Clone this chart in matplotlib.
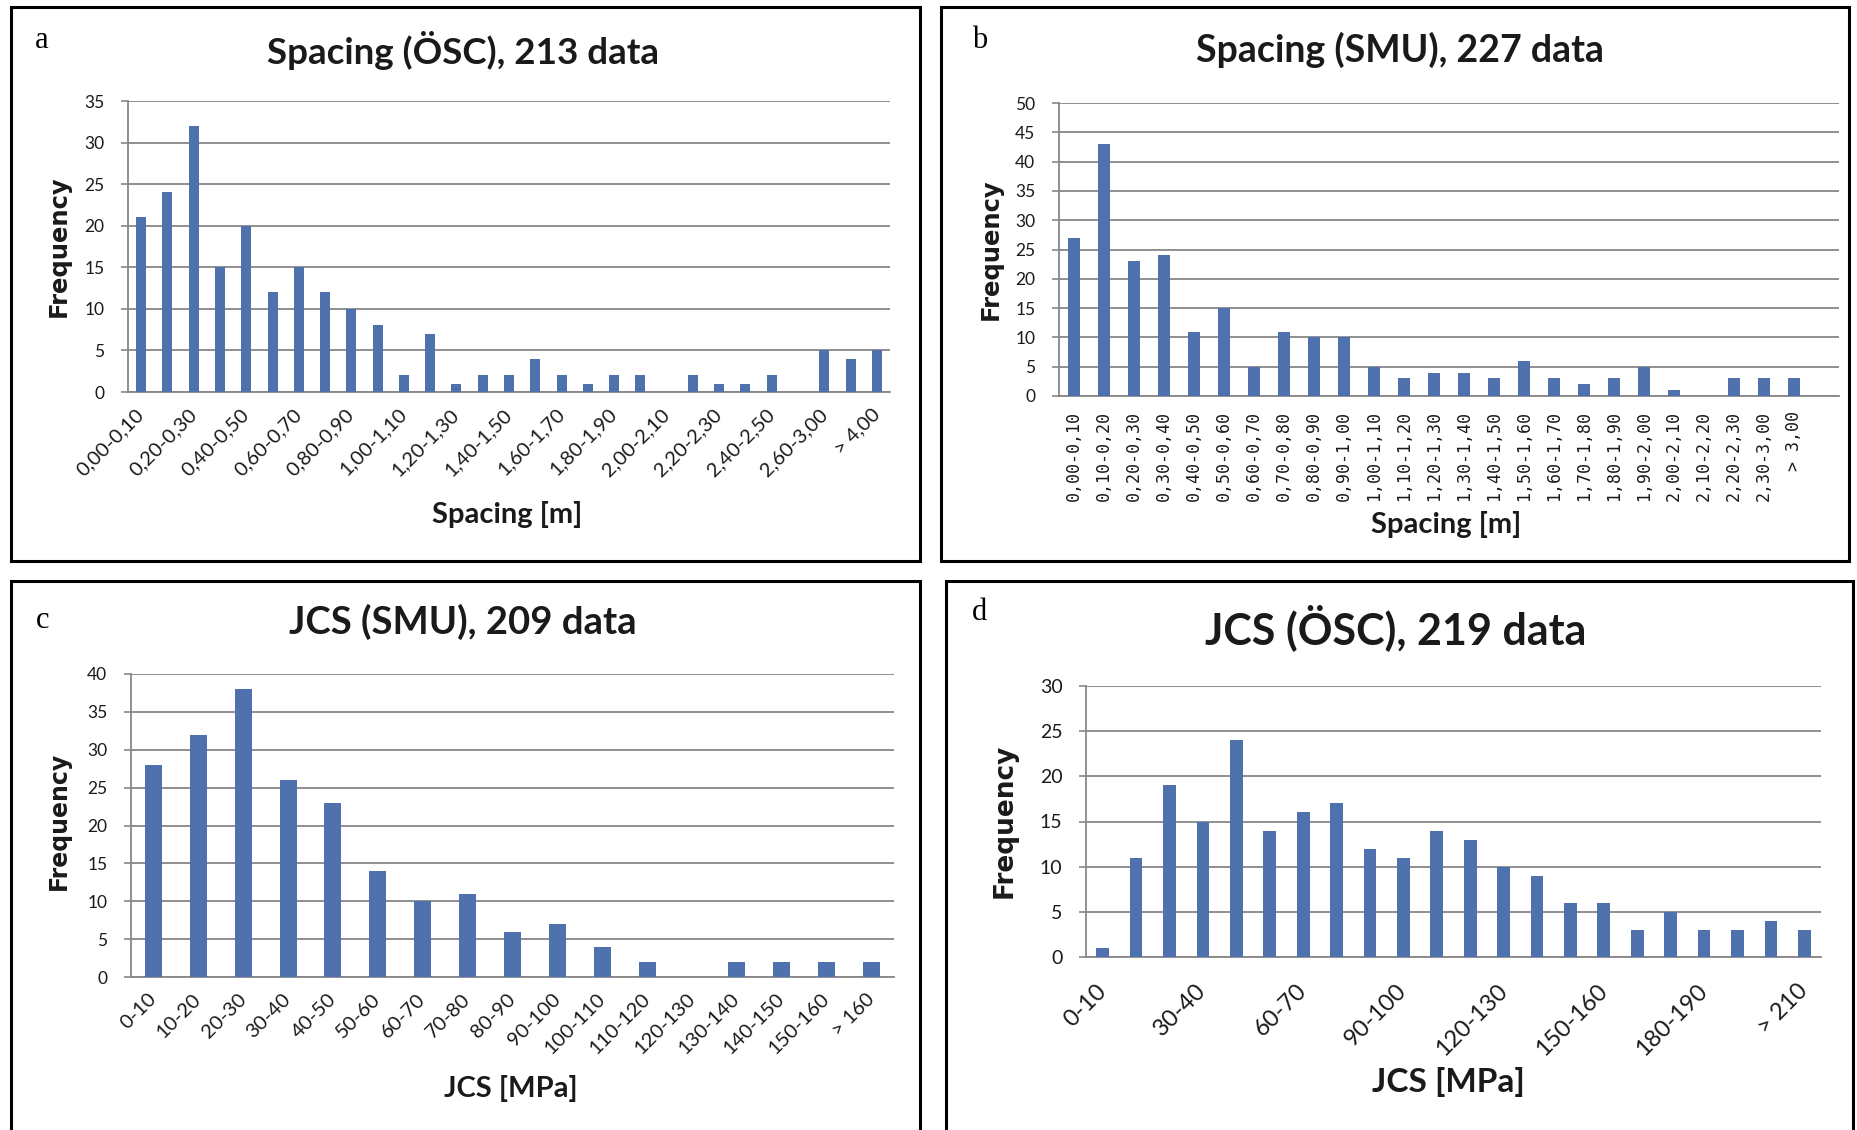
import numpy as np
import matplotlib
matplotlib.use("Agg")
import matplotlib.pyplot as plt
from matplotlib.patches import Rectangle

# ---------------- data ----------------
spacing_osc_labels = ['0,00-0,10', '0,10-0,20', '0,20-0,30', '0,30-0,40', '0,40-0,50',
                      '0,50-0,60', '0,60-0,70', '0,70-0,80', '0,80-0,90', '0,90-1,00',
                      '1,00-1,10', '1,10-1,20', '1,20-1,30', '1,30-1,40', '1,40-1,50',
                      '1,50-1,60', '1,60-1,70', '1,70-1,80', '1,80-1,90', '1,90-2,00',
                      '2,00-2,10', '2,10-2,20', '2,20-2,30', '2,30-2,40', '2,40-2,50',
                      '2,50-2,60', '2,60-3,00', '3,00-4,00', '> 4,00']
spacing_osc_freq = [21, 24, 32, 15, 20, 12, 15, 12, 10, 8, 2, 7, 1, 2, 2,
                    4, 2, 1, 2, 2, 0, 2, 1, 1, 2, 0, 5, 4, 5]

spacing_smu_labels = ['0,00-0,10', '0,10-0,20', '0,20-0,30', '0,30-0,40', '0,40-0,50',
                      '0,50-0,60', '0,60-0,70', '0,70-0,80', '0,80-0,90', '0,90-1,00',
                      '1,00-1,10', '1,10-1,20', '1,20-1,30', '1,30-1,40', '1,40-1,50',
                      '1,50-1,60', '1,60-1,70', '1,70-1,80', '1,80-1,90', '1,90-2,00',
                      '2,00-2,10', '2,10-2,20', '2,20-2,30', '2,30-3,00', '> 3,00']
spacing_smu_freq = [27, 43, 23, 24, 11, 15, 5, 11, 10, 10, 5, 3, 4, 4, 3,
                    6, 3, 2, 3, 5, 1, 0, 3, 3, 3]

jcs_smu_labels = ['0-10', '10-20', '20-30', '30-40', '40-50', '50-60', '60-70', '70-80',
                  '80-90', '90-100', '100-110', '110-120', '120-130', '130-140',
                  '140-150', '150-160', '> 160']
jcs_smu_freq = [28, 32, 38, 26, 23, 14, 10, 11, 6, 7, 4, 2, 0, 2, 2, 2, 2]

jcs_osc_labels = ['0-10', '10-20', '20-30', '30-40', '40-50', '50-60', '60-70', '70-80',
                  '80-90', '90-100', '100-110', '110-120', '120-130', '130-140',
                  '140-150', '150-160', '160-170', '170-180', '180-190', '190-200',
                  '200-210', '> 210']
jcs_osc_freq = [1, 11, 19, 15, 24, 14, 16, 17, 12, 11, 14, 13, 10, 9, 6, 6,
                3, 5, 3, 3, 4, 3]

# ---------------- style ----------------
W, H = 1858, 1130
BAR = '#4F72AE'
GRID = '#878787'
TXT = '#1a1a1a'
TITLE_FONT = 'Lato'
LETTER_FONT = 'Liberation Serif'

fig = plt.figure(figsize=(W / 100, H / 100), dpi=100)
fig.patch.set_facecolor('white')


def fx(x):
    return x / W


def fy(y):
    return 1 - y / H


def frame(l, t, r, b, lw=2.2):
    fig.add_artist(Rectangle((fx(l), fy(b)), fx(r - l), (b - t) / H, transform=fig.transFigure,
                             fill=False, ec='black', lw=lw, zorder=10))


def panel(box, labels, freq, ymax, tick_every, rot, ytick_fs, xtick_fs, xfont, xpad, n_slots=None):
    l, t, r, b = box
    ax = fig.add_axes([fx(l), fy(b), fx(r - l), (b - t) / H])
    n = len(freq)
    if n_slots is None:
        n_slots = n
    x = np.arange(n)
    ax.bar(x, freq, width=0.38, color=BAR, zorder=3)
    ax.set_xlim(-0.5, n_slots - 0.5)
    ax.set_ylim(0, ymax)
    ax.set_yticks(np.arange(0, ymax + 1, 5))
    ax.grid(axis='y', color=GRID, lw=1.3, zorder=0)
    ax.set_axisbelow(True)
    for s in ['top', 'right']:
        ax.spines[s].set_visible(False)
    for s in ['left', 'bottom']:
        ax.spines[s].set_color(GRID)
        ax.spines[s].set_linewidth(1.3)
    ax.tick_params(axis='y', length=5, width=1.2, color=GRID, pad=12,
                   labelsize=ytick_fs, labelcolor=TXT)
    for lab in ax.get_yticklabels():
        lab.set_family(TITLE_FONT)
    idx = list(range(0, n, tick_every))
    ax.set_xticks(idx)
    if rot == 90:
        ax.set_xticklabels([labels[i] for i in idx], rotation=90, ha='center', va='top',
                           family=xfont, fontsize=xtick_fs, color=TXT)
    else:
        ax.set_xticklabels([labels[i] for i in idx], rotation=45, ha='right', va='center',
                           rotation_mode='anchor', family=xfont, fontsize=xtick_fs, color=TXT)
    ax.tick_params(axis='x', length=0, pad=xpad)
    return ax


# Panel a
frame(11, 7, 920, 561)
panel((128, 101, 890, 392), spacing_osc_labels, spacing_osc_freq, 35, 2, 45, 12.5, 14.5,
      TITLE_FONT, 14)
fig.text(fx(35), fy(48), 'a', family=LETTER_FONT, fontsize=22, va='baseline')
fig.text(fx(463), fy(50), 'Spacing (ÖSC), 213 data', family=TITLE_FONT, weight='bold',
         fontsize=26.5, ha='center', va='center', color=TXT)
fig.text(fx(59), fy(246), 'Frequency', family='DejaVu Sans', weight='bold', fontsize=17.5,
         rotation=90, ha='center', va='center', color=TXT)
fig.text(fx(507), fy(515), 'Spacing [m]', family=TITLE_FONT, weight='bold', fontsize=21,
         ha='center', va='center', color=TXT)

# Panel b
frame(941, 7, 1849, 561)
panel((1059, 103, 1839, 396), spacing_smu_labels, spacing_smu_freq, 50, 1, 90, 12.5, 12,
      'DejaVu Sans Mono', 11, n_slots=26)
fig.text(fx(972), fy(48), 'b', family=LETTER_FONT, fontsize=22, va='baseline')
fig.text(fx(1400), fy(50), 'Spacing (SMU), 227 data', family=TITLE_FONT, weight='bold',
         fontsize=27, ha='center', va='center', color=TXT)
fig.text(fx(991), fy(249), 'Frequency', family='DejaVu Sans', weight='bold', fontsize=17.5,
         rotation=90, ha='center', va='center', color=TXT)
fig.text(fx(1446), fy(525), 'Spacing [m]', family=TITLE_FONT, weight='bold', fontsize=21,
         ha='center', va='center', color=TXT)

# Panel c
frame(11, 581, 920, 1145)
panel((131, 674, 894, 977), jcs_smu_labels, jcs_smu_freq, 40, 1, 45, 12.5, 14.5,
      TITLE_FONT, 14)
fig.text(fx(36), fy(628), 'c', family=LETTER_FONT, fontsize=22, va='baseline')
fig.text(fx(463), fy(622), 'JCS (SMU), 209 data', family=TITLE_FONT, weight='bold',
         fontsize=27.5, ha='center', va='center', color=TXT)
fig.text(fx(59), fy(821), 'Frequency', family='DejaVu Sans', weight='bold', fontsize=17,
         rotation=90, ha='center', va='center', color=TXT)
fig.text(fx(511), fy(1088), 'JCS [MPa]', family=TITLE_FONT, weight='bold', fontsize=21,
         ha='center', va='center', color=TXT)

# Panel d
frame(946, 581, 1853, 1145)
panel((1086, 686, 1821, 957), jcs_osc_labels, jcs_osc_freq, 30, 3, 45, 14, 17,
      TITLE_FONT, 22)
fig.text(fx(972), fy(620), 'd', family=LETTER_FONT, fontsize=22, va='baseline')
fig.text(fx(1396), fy(628), 'JCS (ÖSC), 219 data', family=TITLE_FONT, weight='bold',
         fontsize=31, ha='center', va='center', color=TXT)
fig.text(fx(1005), fy(821), 'Frequency', family='DejaVu Sans', weight='bold', fontsize=19,
         rotation=90, ha='center', va='center', color=TXT)
fig.text(fx(1448), fy(1082), 'JCS [MPa]', family=TITLE_FONT, weight='bold', fontsize=24,
         ha='center', va='center', color=TXT)

fig.savefig('out.png', dpi=100, facecolor='white')
